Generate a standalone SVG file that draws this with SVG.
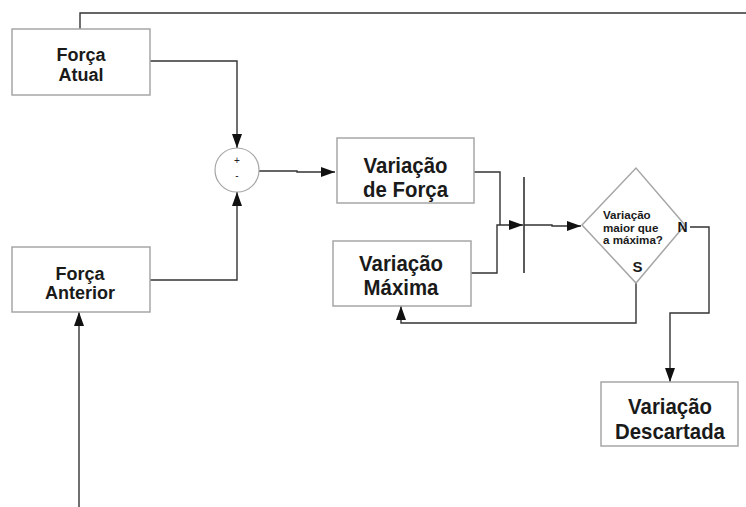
<svg xmlns="http://www.w3.org/2000/svg" width="746" height="507" viewBox="0 0 746 507">
<style>
.box{fill:#fff;stroke:#a6a6a6;stroke-width:1.5}
.ln{fill:none;stroke:#333;stroke-width:1.4}
.t{font-family:"Liberation Sans",Arial,sans-serif;font-weight:bold;fill:#1a1a1a;text-anchor:middle}
.big{font-size:20.4px}
.mid{font-size:18px}
.sm{font-size:11.6px;text-anchor:start}
.pm{font-size:10px;font-weight:normal;fill:#222}
</style>
<defs>
<marker id="ar" viewBox="0 0 14 10" refX="14" refY="5" markerWidth="14" markerHeight="10" markerUnits="userSpaceOnUse" orient="auto">
<path d="M0,0 L14,5 L0,10 Z" fill="#111"/>
</marker>
</defs>
<rect width="746" height="507" fill="#fff"/>
<g id="connectors">
<path class="ln" d="M80,29 V13 H746"/>
<path class="ln" d="M150,61 H237 V148" marker-end="url(#ar)"/>
<path class="ln" d="M150,280 H237 V192" marker-end="url(#ar)"/>
<path class="ln" d="M79,507 V312" marker-end="url(#ar)"/>
<path class="ln" d="M259,171 H297 V172 H335" marker-end="url(#ar)"/>
<path class="ln" d="M474,172 H500 V225"/>
<path class="ln" d="M471,273 H497 V225 H523" marker-end="url(#ar)"/>
<path class="ln" d="M524,177 V273" style="stroke-width:1.6"/>
<path class="ln" d="M524,225 H552 V226 H581" marker-end="url(#ar)"/>
<path class="ln" d="M690,227 H709 V313 H670 V382" marker-end="url(#ar)"/>
<path class="ln" d="M636,283 V323 H401 V306" marker-end="url(#ar)"/>
</g>
<g id="forca-atual">
<rect class="box" x="12" y="29" width="138" height="66"/>
<text class="t mid" x="81" y="61">Força</text>
<text class="t mid" x="81" y="81">Atual</text>
</g>
<g id="forca-anterior">
<rect class="box" x="12" y="247" width="138" height="65"/>
<text class="t mid" x="80" y="280">Força</text>
<text class="t mid" x="80" y="299">Anterior</text>
</g>
<g id="somador">
<circle cx="237" cy="170" r="22" fill="#fff" stroke="#a6a6a6" stroke-width="1.2"/>
<text class="t pm" x="237" y="164">+</text>
<text class="t pm" x="237" y="179">-</text>
</g>
<g id="variacao-forca">
<rect class="box" x="337" y="138" width="137" height="65"/>
<text class="t big" transform="translate(405.5,173) scale(1,1.12)">Variação</text>
<text class="t big" transform="translate(405.5,197) scale(1,1.12)">de Força</text>
</g>
<g id="variacao-maxima">
<rect class="box" x="333" y="241" width="138" height="65"/>
<text class="t big" transform="translate(401,271) scale(1,1.12)">Variação</text>
<text class="t big" transform="translate(401,295) scale(1,1.12)">Máxima</text>
</g>
<g id="decisao">
<polygon points="582,225 636,168 685,225 636,283" fill="#fff" stroke="#a6a6a6" stroke-width="1.5"/>
<text class="t sm" x="603" y="219">Variação</text>
<text class="t sm" x="603" y="231.5">maior que</text>
<text class="t sm" x="603" y="244">a máxima?</text>
<text class="t" x="682.5" y="232" style="font-size:14px">N</text>
<text class="t" x="637.5" y="272" style="font-size:15px">S</text>
</g>
<g id="variacao-descartada">
<rect class="box" x="601" y="382" width="137" height="64"/>
<text class="t big" transform="translate(670,414) scale(1,1.12)">Variação</text>
<text class="t big" transform="translate(670,439) scale(1,1.12)">Descartada</text>
</g>
</svg>
